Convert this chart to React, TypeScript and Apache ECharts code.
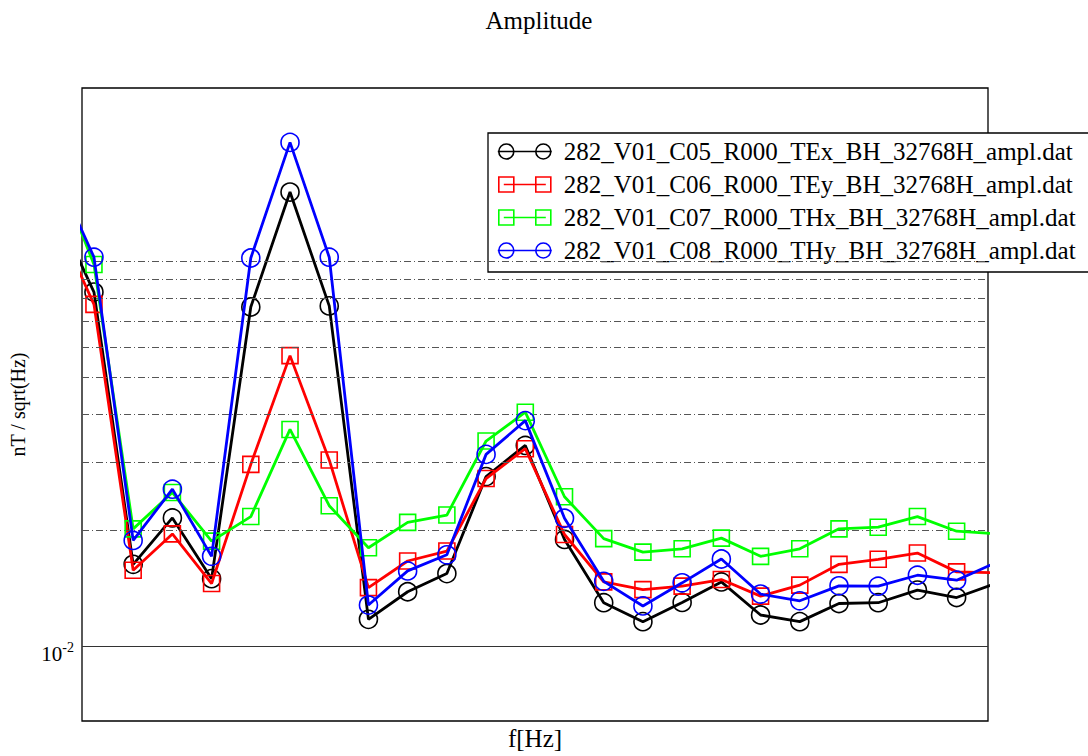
import React, { useEffect, useRef } from "react";
import * as echarts from "echarts";

const xIndex = [0, 1, 2, 3, 4, 5, 6, 7, 8, 9, 10, 11, 12, 13, 14, 15, 16, 17, 18, 19, 20, 21, 22, 23, 24];

const seriesNames = [
  "282_V01_C05_R000_TEx_BH_32768H_ampl.dat",
  "282_V01_C06_R000_TEy_BH_32768H_ampl.dat",
  "282_V01_C07_R000_THx_BH_32768H_ampl.dat",
  "282_V01_C08_R000_THy_BH_32768H_ampl.dat",
];

const tex = [0.138, 0.0832, 0.01634, 0.02156, 0.015, 0.0761, 0.1513, 0.0766, 0.01176, 0.01387, 0.01546, 0.02762, 0.03326, 0.01896, 0.01299, 0.0116, 0.01301, 0.01471, 0.01207, 0.0116, 0.01293, 0.01299, 0.01401, 0.0134, 0.01459];
const tey = [0.13, 0.0773, 0.01577, 0.0196, 0.01457, 0.02971, 0.0569, 0.0305, 0.01422, 0.01667, 0.01769, 0.02729, 0.03262, 0.01953, 0.01471, 0.01405, 0.01434, 0.01492, 0.01351, 0.01443, 0.01634, 0.01684, 0.01748, 0.01562, 0.01553];
const thx = [0.178, 0.0981, 0.0202, 0.0251, 0.01877, 0.02174, 0.0366, 0.0232, 0.01804, 0.021, 0.02194, 0.03415, 0.04057, 0.02448, 0.01905, 0.01758, 0.01793, 0.01911, 0.01714, 0.01793, 0.0202, 0.0204, 0.02174, 0.01992, 0.01963];
const thy = [0.172, 0.1025, 0.01885, 0.02561, 0.01714, 0.102, 0.2036, 0.1025, 0.01281, 0.01571, 0.0173, 0.03153, 0.03858, 0.02152, 0.01476, 0.01274, 0.01463, 0.01687, 0.01368, 0.01314, 0.01437, 0.01434, 0.01531, 0.01486, 0.0165];

const minorGrid = [0.02, 0.03, 0.04, 0.05, 0.06, 0.07, 0.08, 0.09, 0.1];
const majorGrid = [0.01];

const colors = ["#000000", "#ff0000", "#00ff00", "#0000ff"];
const markers = ["circle", "rect", "rect", "circle"];

const FONT = "'Liberation Serif', 'Times New Roman', serif";

const circleIcon =
  "path://M0,8.5 H54 M1,8.5 A7.5,7.5 0 1,0 16,8.5 A7.5,7.5 0 1,0 1,8.5 Z M38,8.5 A7.5,7.5 0 1,0 53,8.5 A7.5,7.5 0 1,0 38,8.5 Z M0,0 L0,0 M54,17 L54,17";
const rectIcon =
  "path://M1,1 H16 V16 H1 Z M38,1 H53 V16 H38 Z M6,8.5 H48 M0,0 L0,0 M54,17 L54,17";

export default function App() {
  const ref = useRef<HTMLDivElement>(null);
  useEffect(() => {
    if (!ref.current) return;
    const chart = echarts.init(ref.current, undefined, { renderer: "svg" });
    const allData = [tex, tey, thx, thy];
    const series: any[] = allData.map((vals, i) => ({
      name: seriesNames[i],
      type: "line",
      data: vals.map((v, k) => [xIndex[k], v]),
      symbol: markers[i],
      symbolSize: markers[i] === "circle" ? 18 : 16,
      showSymbol: true,
      clip: true,
      lineStyle: { color: colors[i], width: 2.8 },
      itemStyle: { color: "rgba(0,0,0,0)", borderColor: colors[i], borderWidth: 1.6 },
      emphasis: { disabled: true },
      z: 3 + i,
    }));
    series[0].markLine = {
      silent: true,
      symbol: "none",
      animation: false,
      data: [
        ...minorGrid.map((v) => ({
          yAxis: v,
          lineStyle: { color: "#555", width: 1, type: [7, 3, 1, 3] },
          label: { show: false },
        })),
        ...majorGrid.map((v) => ({
          yAxis: v,
          lineStyle: { color: "#333", width: 1, type: "solid" },
          label: {
            show: true,
            position: "start",
            distance: 8,
            formatter: "{a|10}{b|-2}",
            padding: [12, 0, 0, 0],
            rich: {
              a: { fontSize: 21, fontFamily: FONT, color: "#000", lineHeight: 24, verticalAlign: "bottom" },
              b: { fontSize: 14, fontFamily: FONT, color: "#000", lineHeight: 14, verticalAlign: "top" },
            },
          },
        })),
      ],
    };
    chart.setOption({
      animation: false,
      backgroundColor: "#fff",
      title: {
        text: "Amplitude",
        left: 534,
        top: 3,
        textAlign: "center",
        textStyle: { fontFamily: FONT, fontSize: 25, fontWeight: "normal", color: "#000" },
      },
      grid: {
        left: 80,
        right: 100,
        top: 88,
        bottom: 31,
        show: true,
        borderColor: "#000",
        borderWidth: 1.3,
        backgroundColor: "transparent",
      },
      legend: {
        orient: "vertical",
        left: 488,
        top: 133,
        padding: [6, 24, 9, 9],
        itemWidth: 54,
        itemHeight: 17,
        itemGap: 8,
        backgroundColor: "#fff",
        borderColor: "#000",
        borderWidth: 1.3,
        borderRadius: 0,
        selectedMode: false,
        textStyle: { fontFamily: FONT, fontSize: 25, color: "#000", padding: [0, 0, 0, 7] },
        data: seriesNames.map((n, i) => ({
          name: n,
          icon: markers[i] === "circle" ? circleIcon : rectIcon,
          itemStyle: { color: "rgba(0,0,0,0)", borderColor: colors[i], borderWidth: 1.6 },
        })),
      },
      xAxis: {
        type: "value",
        min: 0.695,
        max: 23.8,
        name: "f[Hz]",
        nameLocation: "middle",
        nameGap: 5,
        nameTextStyle: { fontFamily: FONT, fontSize: 25, color: "#000" },
        axisLine: { show: false },
        axisTick: { show: false },
        axisLabel: { show: false },
        splitLine: { show: false },
      },
      yAxis: {
        type: "log",
        logBase: 10,
        min: 0.0064047,
        max: 0.28181,
        name: "nT / sqrt(Hz)",
        nameLocation: "middle",
        nameGap: 54,
        nameTextStyle: { fontFamily: FONT, fontSize: 20, color: "#000" },
        axisLine: { show: false },
        axisTick: { show: false },
        axisLabel: { show: false },
        splitLine: { show: false },
        minorTick: { show: false },
      },
      series,
    });
    return () => chart.dispose();
  }, []);
  return (
    <div
      ref={ref}
      style={{ position: "fixed", left: 0, top: 0, width: 1088, height: 756 }}
    />
  );
}
